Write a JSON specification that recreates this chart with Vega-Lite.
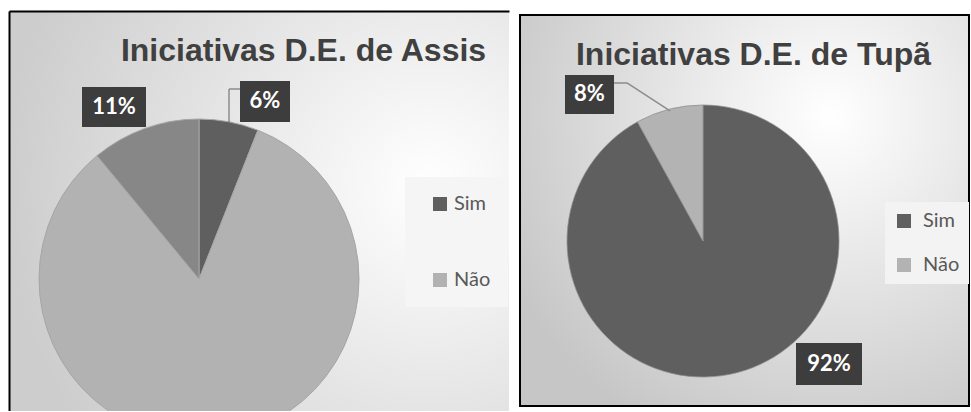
{
  "$schema": "https://vega.github.io/schema/vega-lite/v6.json",
  "padding": {"left": 9, "top": 11, "right": 1, "bottom": 0},
  "spacing": 10,
  "center": true,
  "background": "white",
  "config": {
    "font": "Lato",
    "title": {"font": "Liberation Sans", "fontSize": 32, "fontWeight": "bold", "color": "#404040", "anchor": "middle", "frame": "group", "baseline": "alphabetic", "offset": -57},
    "legend": {"labelFont": "Lato", "labelFontSize": 20, "labelColor": "#595959", "symbolType": "square", "symbolSize": 196, "symbolStrokeWidth": 0, "orient": "none", "title": null}
  },
  "resolve": {"scale": {"color": "independent", "x": "independent", "y": "independent"}, "legend": {"color": "independent"}},
  "hconcat": [
    {
      "width": 500,
      "height": 400,
      "view": {"stroke": null, "fill": {"gradient": "radial", "x1": 0.84, "y1": 0.45, "r1": 0, "x2": 0.84, "y2": 0.45, "r2": 0.85, "stops": [{"offset": 0, "color": "#ffffff"}, {"offset": 1, "color": "#cdcdcd"}]}},
      "title": {"text": "Iniciativas D.E. de Assis", "dx": 44.5},
      "data": {"values": [
        {"categoria": "Sim", "pct": 0.06, "ordem": 1},
        {"categoria": "Não", "pct": 0.83, "ordem": 2},
        {"categoria": "Outros", "pct": 0.11, "ordem": 3}
      ]},
      "layer": [
        {
          "mark": {"type": "arc", "outerRadius": 160, "stroke": "#a6a6a6", "strokeWidth": 1, "clip": true},
          "encoding": {
            "x": {"datum": 0.38, "type": "quantitative", "scale": {"domain": [0, 1]}, "axis": {"orient": "top", "domainColor": "#000000", "domainWidth": 2, "ticks": false, "labels": false, "grid": false, "title": null}},
            "y": {"datum": 0.67, "type": "quantitative", "scale": {"domain": [0, 1], "reverse": true}, "axis": {"orient": "left", "domainColor": "#000000", "domainWidth": 2, "ticks": false, "labels": false, "grid": false, "title": null}},
            "theta": {"field": "pct", "type": "quantitative", "stack": true},
            "order": {"field": "ordem"},
            "color": {"field": "categoria", "type": "nominal", "scale": {"domain": ["Sim", "Não", "Outros"], "range": ["#5f5f5f", "#b2b2b2", "#878787"]},
              "legend": {"values": ["Sim", "Não"], "legendX": 396, "legendY": 166, "padding": 17, "rowPadding": 56, "symbolOffset": 8, "labelOffset": 4, "fillColor": "#f5f5f5"}}
          }
        },
        {
          "transform": [{"filter": "datum.categoria === 'Sim'"}],
          "mark": {"type": "rule", "color": "#8c8c8c", "strokeWidth": 1.5},
          "encoding": {"x": {"datum": 0.44, "type": "quantitative"}, "y": {"datum": 0.2775, "type": "quantitative"}, "y2": {"datum": 0.195}}
        },
        {
          "transform": [{"filter": "datum.categoria === 'Sim'"}],
          "mark": {"type": "rule", "color": "#8c8c8c", "strokeWidth": 1.5},
          "encoding": {"x": {"datum": 0.44, "type": "quantitative"}, "x2": {"datum": 0.462}, "y": {"datum": 0.195, "type": "quantitative"}}
        },
        {
          "transform": [{"filter": "datum.categoria === 'Sim'"}],
          "mark": {"type": "rect", "color": "#3d3d3d"},
          "encoding": {"x": {"datum": 0.462, "type": "quantitative"}, "x2": {"datum": 0.562}, "y": {"datum": 0.175, "type": "quantitative"}, "y2": {"datum": 0.2775}}
        },
        {
          "transform": [{"filter": "datum.categoria === 'Sim'"}],
          "mark": {"type": "text", "color": "#ffffff", "font": "Lato", "fontWeight": "bold", "fontSize": 22, "align": "center", "baseline": "middle"},
          "encoding": {"x": {"datum": 0.512, "type": "quantitative"}, "y": {"datum": 0.226, "type": "quantitative"}, "text": {"field": "pct", "type": "quantitative", "format": ".0%"}}
        },
        {
          "transform": [{"filter": "datum.categoria === 'Outros'"}],
          "mark": {"type": "rect", "color": "#3d3d3d"},
          "encoding": {"x": {"datum": 0.146, "type": "quantitative"}, "x2": {"datum": 0.274}, "y": {"datum": 0.19, "type": "quantitative"}, "y2": {"datum": 0.29}}
        },
        {
          "transform": [{"filter": "datum.categoria === 'Outros'"}],
          "mark": {"type": "text", "color": "#ffffff", "font": "Lato", "fontWeight": "bold", "fontSize": 22, "align": "center", "baseline": "middle"},
          "encoding": {"x": {"datum": 0.21, "type": "quantitative"}, "y": {"datum": 0.24, "type": "quantitative"}, "text": {"field": "pct", "type": "quantitative", "format": ".0%"}}
        }
      ]
    },
    {
      "width": 449,
      "height": 391,
      "view": {"stroke": "#000000", "strokeWidth": 2, "fill": {"gradient": "radial", "x1": 0.69, "y1": 0.29, "r1": 0, "x2": 0.69, "y2": 0.29, "r2": 0.8, "stops": [{"offset": 0, "color": "#ffffff"}, {"offset": 1, "color": "#c6c6c6"}]}},
      "title": {"text": "Iniciativas D.E. de Tupã", "dx": 9},
      "data": {"values": [
        {"categoria": "Sim", "pct": 0.92, "ordem": 1},
        {"categoria": "Não", "pct": 0.08, "ordem": 2}
      ]},
      "layer": [
        {
          "mark": {"type": "arc", "outerRadius": 136, "stroke": "#8f8f8f", "strokeWidth": 0.75},
          "encoding": {
            "x": {"datum": 0.4076, "type": "quantitative", "scale": {"domain": [0, 1]}, "axis": null},
            "y": {"datum": 0.578, "type": "quantitative", "scale": {"domain": [0, 1], "reverse": true}, "axis": null},
            "theta": {"field": "pct", "type": "quantitative", "stack": true},
            "order": {"field": "ordem"},
            "color": {"field": "categoria", "type": "nominal", "scale": {"domain": ["Sim", "Não"], "range": ["#5f5f5f", "#b3b3b3"]},
              "legend": {"legendX": 365, "legendY": 187, "padding": 9, "rowPadding": 24, "symbolOffset": 0, "labelOffset": 9, "fillColor": "#f3f3f3"}}
          }
        },
        {
          "transform": [{"filter": "datum.categoria === 'Não'"}],
          "mark": {"type": "rule", "color": "#8c8c8c", "strokeWidth": 1.5},
          "encoding": {"x": {"datum": 0.2094, "type": "quantitative"}, "x2": {"datum": 0.2383}, "y": {"datum": 0.1739, "type": "quantitative"}}
        },
        {
          "transform": [{"filter": "datum.categoria === 'Não'"}],
          "mark": {"type": "rule", "color": "#8c8c8c", "strokeWidth": 1.5},
          "encoding": {"x": {"datum": 0.2383, "type": "quantitative"}, "x2": {"datum": 0.3341}, "y": {"datum": 0.1739, "type": "quantitative"}, "y2": {"datum": 0.2455}}
        },
        {
          "transform": [{"filter": "datum.categoria === 'Não'"}],
          "mark": {"type": "rect", "color": "#3d3d3d"},
          "encoding": {"x": {"datum": 0.1002, "type": "quantitative"}, "x2": {"datum": 0.2094}, "y": {"datum": 0.1535, "type": "quantitative"}, "y2": {"datum": 0.2532}}
        },
        {
          "transform": [{"filter": "datum.categoria === 'Não'"}],
          "mark": {"type": "text", "color": "#ffffff", "font": "Lato", "fontWeight": "bold", "fontSize": 22, "align": "center", "baseline": "middle"},
          "encoding": {"x": {"datum": 0.1548, "type": "quantitative"}, "y": {"datum": 0.2033, "type": "quantitative"}, "text": {"field": "pct", "type": "quantitative", "format": ".0%"}}
        },
        {
          "transform": [{"filter": "datum.categoria === 'Sim'"}],
          "mark": {"type": "rect", "color": "#3d3d3d"},
          "encoding": {"x": {"datum": 0.6147, "type": "quantitative"}, "x2": {"datum": 0.7617}, "y": {"datum": 0.8389, "type": "quantitative"}, "y2": {"datum": 0.9463}}
        },
        {
          "transform": [{"filter": "datum.categoria === 'Sim'"}],
          "mark": {"type": "text", "color": "#ffffff", "font": "Lato", "fontWeight": "bold", "fontSize": 22, "align": "center", "baseline": "middle"},
          "encoding": {"x": {"datum": 0.6882, "type": "quantitative"}, "y": {"datum": 0.8926, "type": "quantitative"}, "text": {"field": "pct", "type": "quantitative", "format": ".0%"}}
        }
      ]
    }
  ]
}
